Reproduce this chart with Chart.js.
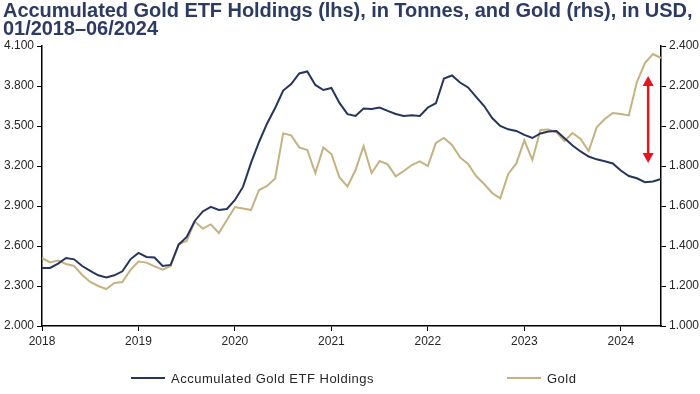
<!DOCTYPE html>
<html>
<head>
<meta charset="utf-8">
<script src="https://cdn.jsdelivr.net/npm/chart.js@4.4.1/dist/chart.umd.min.js"></script>
<style>
	html, body { margin: 0; padding: 0; background: #fff; }
	#wrap { position: relative; width: 700px; height: 394px; overflow: hidden; font-family: 'Liberation Sans', Arial, sans-serif; }
	#chart { position: absolute; left: 0; top: 0; }
	#title { position: absolute; left: 3px; top: 1px; z-index: 2; font-weight: bold; font-size: 20px; line-height: 18px; color: #2d3b62; letter-spacing: -0.05px; white-space: nowrap; }
	#legend { position: absolute; left: 0; top: 370px; width: 700px; height: 18px; font-size: 13px; color: #262626; letter-spacing: 0.5px; }
	.lg-item { position: absolute; top: 0; height: 16px; display: flex; align-items: center; white-space: nowrap; }
	.lg-line { width: 34px; height: 2px; margin-right: 6px; }
</style>
</head>
<body>
<div id="wrap">
	<div id="title">Accumulated Gold ETF Holdings (lhs), in Tonnes, and Gold (rhs), in USD,<br>01/2018–06/2024</div>
	<canvas id="chart" width="700" height="394"></canvas>
	<div id="legend"></div>
</div>
<script>
( function () {
	'use strict';

	// Years on the x axis, one point per month from 01/2018 to 06/2024.
	var years = [ 2018, 2019, 2020, 2021, 2022, 2023, 2024 ];
	var lastYearMonths = 6;

	// Accumulated Gold ETF holdings, tonnes (left axis).
	var etfHoldings = [
		2435, 2435, 2468, 2510, 2500, 2450, 2413, 2380, 2364, 2380, 2410, 2500,
		2548, 2518, 2514, 2450, 2458, 2610, 2668, 2788, 2859, 2893, 2870, 2878,
		2945, 3043, 3223, 3380, 3519, 3635, 3766, 3815, 3894, 3909, 3808, 3770,
		3785, 3673, 3589, 3575, 3631, 3628, 3639, 3613, 3590, 3575, 3580, 3575,
		3639, 3671, 3856, 3879, 3826, 3789, 3718, 3650, 3560, 3500, 3475, 3463,
		3433, 3410, 3444, 3459, 3463, 3408, 3354, 3309, 3271, 3250, 3235, 3219,
		3166, 3125, 3108, 3078, 3084, 3103
	];

	// Gold price, USD (right axis).
	var goldPrice = [
		1340, 1318, 1327, 1310, 1300, 1255, 1220, 1200, 1185, 1215, 1220, 1280,
		1322, 1317, 1298, 1282, 1300, 1410, 1425, 1522, 1487, 1508, 1465, 1530,
		1595, 1588, 1580, 1680, 1700, 1738, 1963, 1953, 1893, 1880, 1765, 1893,
		1860, 1743, 1698, 1780, 1900, 1765, 1825, 1808, 1748, 1775, 1805, 1823,
		1800, 1915, 1940, 1905, 1843, 1810, 1750, 1710, 1665, 1638, 1760, 1813,
		1928, 1830, 1980, 1983, 1968, 1925, 1965, 1935, 1875, 1993, 2035, 2065,
		2060, 2053, 2220, 2315, 2360, 2340
	];

	// Red double arrow: month position and span in gold-axis units.
	var arrowMonth = 75.4;
	var arrowHigh = 2250;
	var arrowLow = 1815;

	var seriesNames = [ 'Accumulated Gold ETF Holdings', 'Gold' ];
	var seriesColours = [ '#27355a', '#c4b283' ];

	var monthLabels = [];
	years.forEach( function ( y, yi ) {
		var n = yi === years.length - 1 ? lastYearMonths : 12;
		for ( var m = 1; m <= n; m++ ) {
			monthLabels.push( y + '-' + ( m < 10 ? '0' : '' ) + m );
		}
	} );

	function dotThousands( v ) {
		var s = String( Math.round( v ) );
		return s.length > 3 ? s.slice( 0, -3 ) + '.' + s.slice( -3 ) : s;
	}

	var tickFont = { family: "'Liberation Sans', Arial, sans-serif", size: 12 };

	// Draws the red double-headed arrow against the gold axis.
	var arrowPlugin = {
		id: 'gapArrow',
		afterDatasetsDraw: function ( chart ) {
			var ctx = chart.ctx;
			var x = chart.scales.x.getPixelForValue( arrowMonth );
			var yTop = chart.scales.yGold.getPixelForValue( arrowHigh );
			var yBot = chart.scales.yGold.getPixelForValue( arrowLow );
			var head = 10, half = 5.5;
			ctx.save();
			ctx.strokeStyle = '#e8141b';
			ctx.fillStyle = '#e8141b';
			ctx.lineWidth = 2.5;
			ctx.beginPath();
			ctx.moveTo( x, yTop + head - 1 );
			ctx.lineTo( x, yBot - head + 1 );
			ctx.stroke();
			ctx.beginPath();
			ctx.moveTo( x, yTop );
			ctx.lineTo( x - half, yTop + head );
			ctx.lineTo( x + half, yTop + head );
			ctx.closePath();
			ctx.fill();
			ctx.beginPath();
			ctx.moveTo( x, yBot );
			ctx.lineTo( x - half, yBot - head );
			ctx.lineTo( x + half, yBot - head );
			ctx.closePath();
			ctx.fill();
			ctx.restore();
		}
	};

	new Chart( document.getElementById( 'chart' ), {
		type: 'line',
		data: {
			labels: monthLabels,
			datasets: [
				{
					label: seriesNames[ 0 ],
					data: etfHoldings,
					borderColor: seriesColours[ 0 ],
					backgroundColor: seriesColours[ 0 ],
					borderWidth: 2,
					pointRadius: 0,
					tension: 0,
					yAxisID: 'yEtf',
					order: 1
				},
				{
					label: seriesNames[ 1 ],
					data: goldPrice,
					borderColor: seriesColours[ 1 ],
					backgroundColor: seriesColours[ 1 ],
					borderWidth: 2,
					pointRadius: 0,
					tension: 0,
					yAxisID: 'yGold',
					order: 2
				}
			]
		},
		options: {
			responsive: false,
			animation: false,
			layout: { padding: { top: 46, bottom: 46, left: 0, right: 0 } },
			plugins: {
				legend: { display: false },
				tooltip: { enabled: false }
			},
			scales: {
				x: {
					type: 'category',
					offset: false,
					afterFit: function ( s ) { s.height = 22; },
					border: { display: true, color: '#000', width: 1.5 },
					grid: {
						drawOnChartArea: false,
						drawTicks: true,
						tickLength: 5,
						color: function ( c ) { return c.index % 12 === 0 ? '#000' : 'rgba(0,0,0,0)'; }
					},
					ticks: {
						autoSkip: false,
						maxRotation: 0,
						color: '#262626',
						font: tickFont,
						padding: 3,
						callback: function ( v, i ) { return i % 12 === 0 ? monthLabels[ i ].slice( 0, 4 ) : ''; }
					}
				},
				yEtf: {
					position: 'left',
					min: 2000,
					max: 4100,
					afterFit: function ( s ) { s.width = 42; },
					border: { display: true, color: '#000', width: 1.5 },
					grid: { drawOnChartArea: false, drawTicks: true, tickLength: 5, color: '#000' },
					ticks: { stepSize: 300, color: '#262626', font: tickFont, padding: 3, callback: dotThousands }
				},
				yGold: {
					position: 'right',
					min: 1000,
					max: 2400,
					afterFit: function ( s ) { s.width = 39; },
					border: { display: true, color: '#000', width: 1.5 },
					grid: { drawOnChartArea: false, drawTicks: true, tickLength: 5, color: '#000' },
					ticks: { stepSize: 200, color: '#262626', font: tickFont, padding: 3, callback: dotThousands }
				}
			}
		},
		plugins: [ arrowPlugin ]
	} );

	// HTML legend, two entries spread apart as in the source.
	var legendLeft = [ 131, 507 ];
	var legend = document.getElementById( 'legend' );
	seriesNames.forEach( function ( name, i ) {
		var item = document.createElement( 'div' );
		item.className = 'lg-item';
		item.style.left = legendLeft[ i ] + 'px';
		var line = document.createElement( 'span' );
		line.className = 'lg-line';
		line.style.background = seriesColours[ i ];
		var text = document.createElement( 'span' );
		text.textContent = name;
		item.appendChild( line );
		item.appendChild( text );
		legend.appendChild( item );
	} );
} )();
</script>
</body>
</html>
